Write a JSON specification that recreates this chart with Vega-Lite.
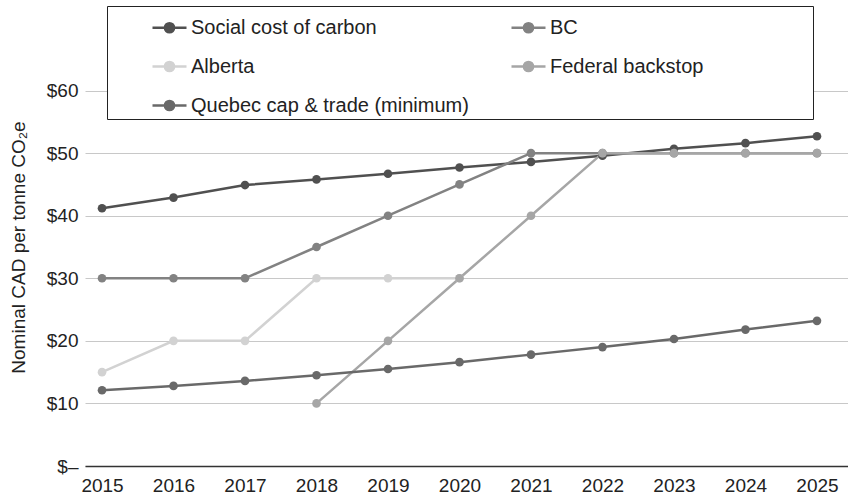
{
  "$schema": "https://vega.github.io/schema/vega-lite/v6.json",
  "autosize": "none",
  "width": 763,
  "height": 438,
  "padding": {"left": 85, "top": 28, "right": 0, "bottom": 30},
  "background": "white",
  "config": {
    "font": "Liberation Sans",
    "view": {"stroke": null},
    "axis": {"labelFont": "Liberation Sans", "titleFont": "Liberation Sans", "labelColor": "#222", "titleColor": "#222", "labelFontSize": 19, "titleFontSize": 19, "titleFontWeight": "normal"}
  },
  "data": {
    "values": [
      {"year": 2015, "series": "Social cost of carbon", "value": 41.2},
      {"year": 2016, "series": "Social cost of carbon", "value": 42.9},
      {"year": 2017, "series": "Social cost of carbon", "value": 44.9},
      {"year": 2018, "series": "Social cost of carbon", "value": 45.8},
      {"year": 2019, "series": "Social cost of carbon", "value": 46.7},
      {"year": 2020, "series": "Social cost of carbon", "value": 47.7},
      {"year": 2021, "series": "Social cost of carbon", "value": 48.6},
      {"year": 2022, "series": "Social cost of carbon", "value": 49.6},
      {"year": 2023, "series": "Social cost of carbon", "value": 50.7},
      {"year": 2024, "series": "Social cost of carbon", "value": 51.6},
      {"year": 2025, "series": "Social cost of carbon", "value": 52.7},
      {"year": 2015, "series": "BC", "value": 30},
      {"year": 2016, "series": "BC", "value": 30},
      {"year": 2017, "series": "BC", "value": 30},
      {"year": 2018, "series": "BC", "value": 35},
      {"year": 2019, "series": "BC", "value": 40},
      {"year": 2020, "series": "BC", "value": 45},
      {"year": 2021, "series": "BC", "value": 50},
      {"year": 2022, "series": "BC", "value": 50},
      {"year": 2023, "series": "BC", "value": 50},
      {"year": 2024, "series": "BC", "value": 50},
      {"year": 2025, "series": "BC", "value": 50},
      {"year": 2015, "series": "Alberta", "value": 15},
      {"year": 2016, "series": "Alberta", "value": 20},
      {"year": 2017, "series": "Alberta", "value": 20},
      {"year": 2018, "series": "Alberta", "value": 30},
      {"year": 2019, "series": "Alberta", "value": 30},
      {"year": 2020, "series": "Alberta", "value": 30},
      {"year": 2018, "series": "Federal backstop", "value": 10},
      {"year": 2019, "series": "Federal backstop", "value": 20},
      {"year": 2020, "series": "Federal backstop", "value": 30},
      {"year": 2021, "series": "Federal backstop", "value": 40},
      {"year": 2022, "series": "Federal backstop", "value": 50},
      {"year": 2023, "series": "Federal backstop", "value": 50},
      {"year": 2024, "series": "Federal backstop", "value": 50},
      {"year": 2025, "series": "Federal backstop", "value": 50},
      {"year": 2015, "series": "Quebec cap & trade (minimum)", "value": 12.1},
      {"year": 2016, "series": "Quebec cap & trade (minimum)", "value": 12.8},
      {"year": 2017, "series": "Quebec cap & trade (minimum)", "value": 13.6},
      {"year": 2018, "series": "Quebec cap & trade (minimum)", "value": 14.5},
      {"year": 2019, "series": "Quebec cap & trade (minimum)", "value": 15.5},
      {"year": 2020, "series": "Quebec cap & trade (minimum)", "value": 16.6},
      {"year": 2021, "series": "Quebec cap & trade (minimum)", "value": 17.8},
      {"year": 2022, "series": "Quebec cap & trade (minimum)", "value": 19.0},
      {"year": 2023, "series": "Quebec cap & trade (minimum)", "value": 20.3},
      {"year": 2024, "series": "Quebec cap & trade (minimum)", "value": 21.8},
      {"year": 2025, "series": "Quebec cap & trade (minimum)", "value": 23.2}
    ]
  },
  "encoding": {
    "x": {
      "field": "year", "type": "quantitative",
      "scale": {"domain": [2014.762, 2025.434], "nice": false, "zero": false},
      "axis": {"title": null, "values": [2015, 2016, 2017, 2018, 2019, 2020, 2021, 2022, 2023, 2024, 2025], "format": "d", "grid": false, "ticks": false, "labelPadding": 10, "domainColor": "#333", "domainWidth": 1.5, "labelFlush": false}
    },
    "y": {
      "field": "value", "type": "quantitative",
      "scale": {"domain": [0, 70], "nice": false},
      "axis": {"title": "Nominal CAD per tonne CO₂e", "values": [0, 10, 20, 30, 40, 50, 60], "labelExpr": "datum.value == 0 ? '$–' : '$' + datum.value", "domain": false, "ticks": false, "grid": true, "gridColor": "#c8c8c8", "gridWidth": 1, "labelPadding": 7, "titlePadding": 18}
    },
    "color": {
      "field": "series", "type": "nominal",
      "scale": {
        "domain": ["Social cost of carbon", "BC", "Alberta", "Federal backstop", "Quebec cap & trade (minimum)"],
        "range": ["#505050", "#828282", "#d2d2d2", "#a6a6a6", "#696969"]
      },
      "legend": {
        "title": " ",
        "titleOrient": "right",
        "titlePadding": 107,
        "titleFontSize": 10,
        "orient": "none",
        "legendX": 22,
        "legendY": -22,
        "direction": "horizontal",
        "columns": 2,
        "columnPadding": -8,
        "rowPadding": 10,
        "padding": 3,
        "symbolOffset": 41,
        "fillColor": "white",
        "strokeColor": "#222",
        "symbolType": "M-1,0H1M-0.27,0A0.27,0.27 0 1,0 0.27,0A0.27,0.27 0 1,0 -0.27,0Z",
        "symbolSize": 1156,
        "symbolStrokeWidth": 2.5,
        "labelFontSize": 20,
        "labelColor": "#222",
        "labelFont": "Liberation Sans",
        "labelOffset": 3,
        "labelLimit": 400
      }
    },
    "order": {"field": "year", "type": "quantitative"}
  },
  "layer": [
    {"mark": {"type": "line", "strokeWidth": 2.5}},
    {"mark": {"type": "point", "filled": true, "opacity": 1, "size": 75}}
  ]
}
